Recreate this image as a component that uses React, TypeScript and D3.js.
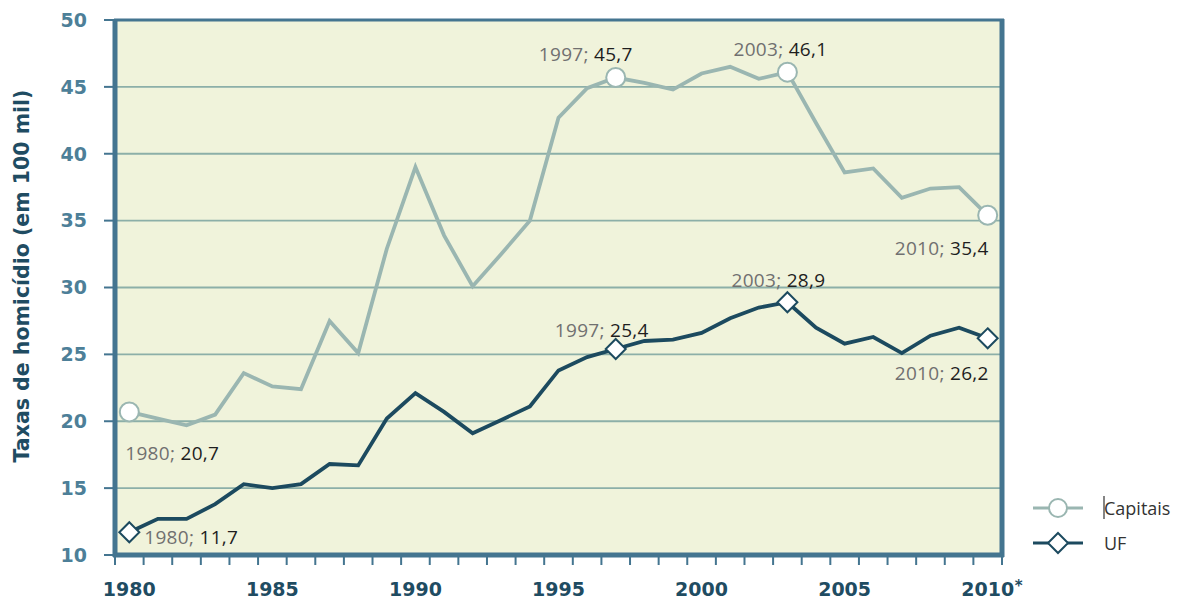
import React from "react";
import * as d3 from "d3";

const years: number[] = [
  1980, 1981, 1982, 1983, 1984, 1985, 1986, 1987, 1988, 1989,
  1990, 1991, 1992, 1993, 1994, 1995, 1996, 1997, 1998, 1999,
  2000, 2001, 2002, 2003, 2004, 2005, 2006, 2007, 2008, 2009, 2010,
];

const capitais: number[] = [
  20.7, 20.2, 19.7, 20.5, 23.6, 22.6, 22.4, 27.5, 25.1, 32.9,
  39.0, 33.9, 30.1, 32.5, 35.0, 42.7, 44.9, 45.7, 45.3, 44.8,
  46.0, 46.5, 45.6, 46.1, 42.3, 38.6, 38.9, 36.7, 37.4, 37.5, 35.4,
];

const uf: number[] = [
  11.7, 12.7, 12.7, 13.8, 15.3, 15.0, 15.3, 16.8, 16.7, 20.2,
  22.1, 20.7, 19.1, 20.1, 21.1, 23.8, 24.8, 25.4, 26.0, 26.1,
  26.6, 27.7, 28.5, 28.9, 27.0, 25.8, 26.3, 25.1, 26.4, 27.0, 26.2,
];

const yTicks: number[] = [10, 15, 20, 25, 30, 35, 40, 45, 50];
const xTickLabels: number[] = [1980, 1985, 1990, 1995, 2000, 2005, 2010];

const seriesNames: string[] = ["Capitais", "UF"];
const yTitle = "Taxas de homicídio (em 100 mil)";

const capAnnotYears: number[] = [1980, 1997, 2003, 2010];
const ufAnnotYears: number[] = [1980, 1997, 2003, 2010];

const C_CAP = "#9ab6b1";
const C_UF = "#1c4a5f";
const C_FRAME = "#447590";
const C_BG = "#f0f3db";
const C_GRID = "#8cafa8";
const C_YLAB = "#4d7f98";
const C_XLAB = "#1f4c62";

const fmt = (v: number) => v.toFixed(1).replace(".", ",");

export default function App() {
  const left = 115;
  const right = 1002;
  const top = 20;
  const bottom = 555;

  const x = d3
    .scaleBand<number>()
    .domain(years)
    .range([left, right])
    .paddingInner(0)
    .paddingOuter(0);
  const bw = x.bandwidth();
  const cx = (yr: number) => (x(yr) as number) + bw / 2;
  const y = d3.scaleLinear().domain([10, 50]).range([bottom, top]);

  const line = d3
    .line<number>()
    .x((_, i) => cx(years[i]))
    .y((d) => y(d));

  const diamond = (px: number, py: number, r: number) =>
    `M${px},${py - r}L${px + r},${py}L${px},${py + r}L${px - r},${py}Z`;

  const capOffsets: [number, number, string][] = [
    [-4, 48, "start"],
    [17, -17, "end"],
    [40, -16, "end"],
    [1, 40, "end"],
  ];
  const ufOffsets: [number, number, string][] = [
    [15, 12, "start"],
    [33, -12, "end"],
    [38, -15, "end"],
    [1, 42, "end"],
  ];

  const annFont = "'Open Sans', sans-serif";
  const tickFont = "'DejaVu Sans', sans-serif";

  const renderLabel = (
    yr: number,
    v: number,
    off: [number, number, string],
    key: string
  ) => (
    <text
      key={key}
      x={cx(yr) + off[0]}
      y={y(v) + off[1]}
      textAnchor={off[2] as any}
      fontFamily={annFont}
      fontSize={19}
      letterSpacing={0.3}
    >
      <tspan fill="#707070">{`${yr}; `}</tspan>
      <tspan fill="#1e1e1e" fontWeight={500}>{fmt(v)}</tspan>
    </text>
  );

  const legendX = 1058;
  const legendY = [508, 543];

  return (
    <svg
      width={1182}
      height={601}
      style={{ position: "absolute", left: 0, top: 0, background: "#ffffff" }}
    >
      <rect x={left} y={top} width={right - left} height={bottom - top} fill={C_BG} />

      {yTicks
        .filter((t) => t > 10 && t < 50)
        .map((t) => (
          <line
            key={"g" + t}
            x1={left}
            x2={right}
            y1={y(t)}
            y2={y(t)}
            stroke={C_GRID}
            strokeWidth={1.8}
          />
        ))}

      <line x1={left - 1} x2={right + 2} y1={top} y2={top} stroke={C_FRAME} strokeWidth={3} />
      <line x1={left} x2={left} y1={top - 1} y2={bottom + 2} stroke={C_FRAME} strokeWidth={5} />
      <line x1={right} x2={right} y1={top - 1} y2={bottom + 2} stroke={C_FRAME} strokeWidth={5} />
      <line x1={left - 2} x2={right + 2} y1={bottom} y2={bottom} stroke={C_FRAME} strokeWidth={5} />

      {yTicks.map((t) => (
        <g key={"yt" + t}>
          <line x1={104} x2={left} y1={y(t)} y2={y(t)} stroke={C_FRAME} strokeWidth={2} />
          <text
            x={87}
            y={y(t)}
            dy="0.36em"
            textAnchor="end"
            fontFamily={tickFont}
            fontWeight="bold"
            fontSize={19}
            fill={C_YLAB}
          >
            {t}
          </text>
        </g>
      ))}

      {[...years.map((yr) => x(yr) as number), right].map((px, i) => (
        <line
          key={"xt" + i}
          x1={px}
          x2={px}
          y1={bottom}
          y2={bottom + 10}
          stroke={C_FRAME}
          strokeWidth={2}
        />
      ))}
      {xTickLabels.map((yr) => (
        <text
          key={"xl" + yr}
          x={cx(yr)}
          y={596}
          textAnchor="middle"
          fontFamily={tickFont}
          fontWeight="bold"
          fontSize={19}
          fill={C_XLAB}
        >
          {yr}
        </text>
      ))}
      <text
        x={cx(2010) + 27}
        y={591}
        fontFamily={tickFont}
        fontWeight="bold"
        fontSize={15}
        fill={C_XLAB}
      >
        *
      </text>

      <text
        transform={`translate(29, ${(87 + 465) / 2}) rotate(-90)`}
        textAnchor="middle"
        fontFamily={tickFont}
        fontWeight="bold"
        fontSize={20.5}
        fill={C_XLAB}
      >
        {yTitle}
      </text>

      <path d={line(capitais) || ""} fill="none" stroke={C_CAP} strokeWidth={3.8} strokeLinejoin="miter" />
      <path d={line(uf) || ""} fill="none" stroke={C_UF} strokeWidth={3.8} strokeLinejoin="miter" />

      {capAnnotYears.map((yr) => {
        const i = years.indexOf(yr);
        return (
          <circle
            key={"cm" + yr}
            cx={cx(yr)}
            cy={y(capitais[i])}
            r={9.5}
            fill="#ffffff"
            stroke={C_CAP}
            strokeWidth={2}
          />
        );
      })}
      {ufAnnotYears.map((yr) => {
        const i = years.indexOf(yr);
        return (
          <path
            key={"um" + yr}
            d={diamond(cx(yr), y(uf[i]), 10)}
            fill="#ffffff"
            stroke={C_UF}
            strokeWidth={2}
          />
        );
      })}

      {capAnnotYears.map((yr, k) =>
        renderLabel(yr, capitais[years.indexOf(yr)], capOffsets[k], "ca" + yr)
      )}
      {ufAnnotYears.map((yr, k) =>
        renderLabel(yr, uf[years.indexOf(yr)], ufOffsets[k], "ua" + yr)
      )}

      <line x1={legendX - 25} x2={legendX + 25} y1={legendY[0]} y2={legendY[0]} stroke={C_CAP} strokeWidth={3} />
      <circle cx={legendX} cy={legendY[0]} r={9} fill="#ffffff" stroke={C_CAP} strokeWidth={2} />
      <line x1={legendX - 25} x2={legendX + 25} y1={legendY[1]} y2={legendY[1]} stroke={C_UF} strokeWidth={3} />
      <path d={diamond(legendX, legendY[1], 10)} fill="#ffffff" stroke={C_UF} strokeWidth={2} />
      <line x1={1104} x2={1104} y1={496} y2={519} stroke="#333333" strokeWidth={1.2} />
      <text x={1104} y={515} fontFamily={annFont} fontSize={18} fill="#333333">
        {seriesNames[0]}
      </text>
      <text x={1104} y={550} fontFamily={annFont} fontSize={18} fill="#333333">
        {seriesNames[1]}
      </text>
    </svg>
  );
}
